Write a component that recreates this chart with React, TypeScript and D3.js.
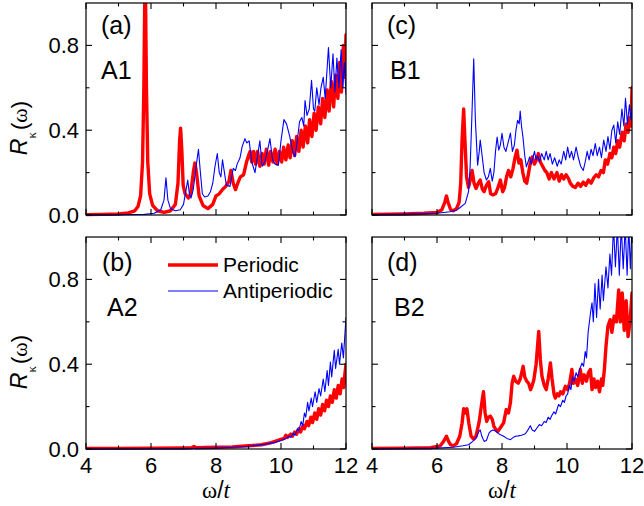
import React from 'react';
import * as d3 from 'd3';

type Pt = [number, number];

const X_MAJOR = [4, 6, 8, 10, 12];
const X_MINOR = [5, 7, 9, 11];
const Y_MAJOR = [0, 0.4, 0.8];
const Y_MINOR = [0.2, 0.6];
const Y_LABELS = ['0.0', '0.4', '0.8'];

// Panel (a) A1
const A1_PERIODIC: Pt[] = [
  [4.0, 0.002], [4.5, 0.003], [5.0, 0.005], [5.3, 0.01], [5.5, 0.02], [5.6, 0.04], [5.68, 0.09], [5.74, 0.25],
  [5.78, 0.6], [5.82, 1.2], [5.86, 0.6], [5.9, 0.25], [5.96, 0.1], [6.05, 0.045], [6.2, 0.02], [6.4, 0.012],
  [6.6, 0.02], [6.75, 0.05], [6.83, 0.15], [6.88, 0.35], [6.91, 0.41], [6.95, 0.3], [6.99, 0.14], [7.05, 0.1],
  [7.15, 0.08], [7.22, 0.1], [7.3, 0.2], [7.35, 0.245], [7.4, 0.2], [7.48, 0.09], [7.6, 0.045], [7.75, 0.03],
  [7.9, 0.05], [8.0, 0.09], [8.1, 0.1], [8.2, 0.12], [8.3, 0.135], [8.4, 0.16], [8.46, 0.21], [8.53, 0.15],
  [8.6, 0.12], [8.67, 0.15], [8.75, 0.18], [8.85, 0.19], [8.94, 0.25], [9.0, 0.28], [9.05, 0.3], [9.1, 0.25],
  [9.16, 0.3], [9.22, 0.24], [9.28, 0.3], [9.35, 0.23], [9.42, 0.29], [9.48, 0.24], [9.55, 0.31], [9.62, 0.235],
  [9.68, 0.3], [9.75, 0.25], [9.82, 0.31], [9.88, 0.24], [9.95, 0.3], [10.02, 0.25], [10.08, 0.32], [10.15, 0.26],
  [10.22, 0.33], [10.28, 0.27], [10.35, 0.35], [10.42, 0.28], [10.48, 0.37], [10.55, 0.3], [10.62, 0.4],
  [10.68, 0.32], [10.75, 0.42], [10.82, 0.34], [10.88, 0.45], [10.95, 0.37], [11.02, 0.48], [11.08, 0.4],
  [11.15, 0.51], [11.22, 0.43], [11.28, 0.55], [11.35, 0.46], [11.42, 0.59], [11.48, 0.49], [11.55, 0.63],
  [11.62, 0.51], [11.68, 0.66], [11.75, 0.55], [11.8, 0.72], [11.86, 0.58], [11.92, 0.8], [11.96, 0.65], [12.0, 0.85],
];
const A1_ANTI: Pt[] = [
  [4.0, 0.0], [5.0, 0.001], [5.8, 0.003], [6.1, 0.008], [6.3, 0.025], [6.4, 0.07], [6.46, 0.175], [6.52, 0.07],
  [6.6, 0.03], [6.75, 0.02], [6.9, 0.025], [7.0, 0.05], [7.08, 0.12], [7.13, 0.165], [7.18, 0.1], [7.23, 0.08],
  [7.3, 0.12], [7.38, 0.22], [7.46, 0.31], [7.52, 0.2], [7.58, 0.1], [7.65, 0.085], [7.75, 0.09], [7.83, 0.11],
  [7.9, 0.15], [7.97, 0.23], [8.04, 0.29], [8.1, 0.2], [8.15, 0.18], [8.2, 0.26], [8.26, 0.2], [8.32, 0.14],
  [8.43, 0.135], [8.53, 0.22], [8.6, 0.21], [8.65, 0.24], [8.74, 0.27], [8.8, 0.32], [8.89, 0.36], [8.95, 0.34],
  [9.02, 0.35], [9.1, 0.25], [9.2, 0.2], [9.27, 0.27], [9.35, 0.35], [9.42, 0.23], [9.5, 0.25], [9.58, 0.3],
  [9.66, 0.36], [9.74, 0.26], [9.82, 0.24], [9.92, 0.235], [10.0, 0.35], [10.09, 0.45], [10.17, 0.43],
  [10.27, 0.37], [10.36, 0.3], [10.43, 0.275], [10.5, 0.35], [10.57, 0.44], [10.64, 0.46], [10.7, 0.42],
  [10.74, 0.54], [10.8, 0.47], [10.87, 0.5], [10.94, 0.635], [11.0, 0.5], [11.04, 0.49], [11.1, 0.6],
  [11.17, 0.52], [11.23, 0.6], [11.3, 0.65], [11.36, 0.55], [11.46, 0.79], [11.53, 0.6], [11.6, 0.76],
  [11.66, 0.58], [11.72, 0.74], [11.78, 0.6], [11.85, 0.78], [11.9, 0.6], [11.95, 0.72], [12.0, 0.57],
];

// Panel (b) A2
const A2_PERIODIC: Pt[] = [
  [4.0, 0.003], [5.0, 0.003], [6.0, 0.004], [7.0, 0.005], [7.25, 0.006], [7.32, 0.012], [7.38, 0.006],
  [8.0, 0.008], [8.5, 0.01], [9.0, 0.015], [9.4, 0.02], [9.7, 0.03], [10.0, 0.045], [10.1, 0.05],
  [10.15, 0.065], [10.2, 0.055], [10.3, 0.07], [10.35, 0.06], [10.42, 0.08], [10.48, 0.07], [10.55, 0.095],
  [10.6, 0.08], [10.68, 0.11], [10.72, 0.095], [10.8, 0.13], [10.85, 0.11], [10.92, 0.15], [10.97, 0.125],
  [11.04, 0.17], [11.1, 0.14], [11.16, 0.19], [11.22, 0.16], [11.28, 0.21], [11.34, 0.18], [11.4, 0.23],
  [11.46, 0.2], [11.52, 0.25], [11.58, 0.22], [11.64, 0.28], [11.7, 0.24], [11.76, 0.3], [11.82, 0.26],
  [11.88, 0.33], [11.93, 0.29], [11.97, 0.36], [12.0, 0.4],
];
const A2_ANTI: Pt[] = [
  [4.0, 0.0], [6.0, 0.001], [7.0, 0.002], [8.0, 0.005], [8.5, 0.008], [9.0, 0.013], [9.5, 0.022], [9.8, 0.03],
  [10.0, 0.04], [10.15, 0.05], [10.25, 0.06], [10.3, 0.055], [10.38, 0.075], [10.43, 0.065], [10.5, 0.095],
  [10.55, 0.085], [10.62, 0.13], [10.67, 0.11], [10.72, 0.17], [10.76, 0.15], [10.82, 0.22], [10.86, 0.18],
  [10.93, 0.24], [10.97, 0.2], [11.05, 0.27], [11.1, 0.22], [11.17, 0.285], [11.22, 0.25], [11.3, 0.33],
  [11.35, 0.27], [11.42, 0.37], [11.46, 0.3], [11.52, 0.41], [11.56, 0.34], [11.64, 0.465], [11.68, 0.38],
  [11.76, 0.47], [11.8, 0.4], [11.87, 0.5], [11.92, 0.43], [11.97, 0.55], [12.0, 0.62],
];

// Panel (c) B1
const B1_PERIODIC: Pt[] = [
  [4.0, 0.003], [5.0, 0.005], [5.6, 0.008], [6.0, 0.012], [6.15, 0.025], [6.24, 0.06], [6.29, 0.09],
  [6.34, 0.06], [6.42, 0.025], [6.5, 0.02], [6.6, 0.03], [6.68, 0.06], [6.73, 0.15], [6.77, 0.35], [6.82, 0.5],
  [6.86, 0.35], [6.91, 0.18], [6.97, 0.13], [7.03, 0.17], [7.08, 0.21], [7.14, 0.15], [7.2, 0.125], [7.27, 0.15],
  [7.33, 0.165], [7.4, 0.12], [7.45, 0.11], [7.52, 0.14], [7.59, 0.157], [7.65, 0.1], [7.72, 0.095], [7.8, 0.1],
  [7.88, 0.13], [7.95, 0.165], [8.02, 0.11], [8.08, 0.13], [8.14, 0.18], [8.2, 0.21], [8.27, 0.18], [8.34, 0.22],
  [8.4, 0.27], [8.46, 0.306], [8.52, 0.245], [8.58, 0.26], [8.64, 0.2], [8.7, 0.16], [8.76, 0.15], [8.82, 0.2],
  [8.87, 0.245], [8.93, 0.274], [9.0, 0.24], [9.06, 0.26], [9.12, 0.29], [9.18, 0.25], [9.25, 0.23], [9.32, 0.21],
  [9.38, 0.2], [9.45, 0.17], [9.52, 0.2], [9.6, 0.17], [9.69, 0.2], [9.76, 0.16], [9.83, 0.19], [9.9, 0.17],
  [9.97, 0.19], [10.05, 0.17], [10.1, 0.15], [10.18, 0.135], [10.26, 0.13], [10.34, 0.15], [10.42, 0.135],
  [10.5, 0.155], [10.58, 0.14], [10.66, 0.165], [10.74, 0.15], [10.82, 0.175], [10.9, 0.19], [10.97, 0.18],
  [11.05, 0.21], [11.12, 0.2], [11.18, 0.26], [11.25, 0.24], [11.32, 0.29], [11.38, 0.27], [11.44, 0.32],
  [11.5, 0.29], [11.56, 0.35], [11.62, 0.32], [11.7, 0.39], [11.76, 0.35], [11.82, 0.43], [11.88, 0.39],
  [11.94, 0.46], [11.97, 0.42], [12.0, 0.6],
];
const B1_ANTI: Pt[] = [
  [4.0, 0.002], [5.0, 0.004], [6.0, 0.008], [6.4, 0.015], [6.6, 0.022], [6.75, 0.04], [6.87, 0.055],
  [6.97, 0.11], [7.02, 0.23], [7.07, 0.45], [7.13, 0.737], [7.18, 0.45], [7.25, 0.235], [7.3, 0.3], [7.33, 0.353],
  [7.38, 0.29], [7.45, 0.2], [7.52, 0.165], [7.58, 0.18], [7.64, 0.22], [7.7, 0.16], [7.75, 0.2], [7.8, 0.3],
  [7.85, 0.368], [7.9, 0.306], [7.95, 0.33], [8.0, 0.385], [8.06, 0.32], [8.12, 0.3], [8.2, 0.35], [8.26, 0.387],
  [8.32, 0.3], [8.38, 0.33], [8.43, 0.4], [8.48, 0.447], [8.53, 0.43], [8.56, 0.49], [8.6, 0.42], [8.65, 0.36],
  [8.7, 0.28], [8.75, 0.227], [8.8, 0.25], [8.85, 0.274], [8.9, 0.24], [8.95, 0.27], [9.0, 0.3], [9.05, 0.26],
  [9.1, 0.28], [9.15, 0.25], [9.22, 0.29], [9.3, 0.26], [9.36, 0.3], [9.42, 0.26], [9.48, 0.29], [9.55, 0.24],
  [9.62, 0.27], [9.7, 0.23], [9.76, 0.26], [9.82, 0.24], [9.9, 0.3], [9.96, 0.26], [10.02, 0.32], [10.08, 0.27],
  [10.14, 0.3], [10.2, 0.26], [10.28, 0.32], [10.35, 0.27], [10.42, 0.23], [10.5, 0.21], [10.56, 0.25],
  [10.62, 0.3], [10.68, 0.26], [10.74, 0.31], [10.8, 0.28], [10.87, 0.337], [10.93, 0.28], [11.0, 0.32],
  [11.06, 0.27], [11.13, 0.353], [11.2, 0.3], [11.26, 0.37], [11.32, 0.31], [11.38, 0.4], [11.44, 0.424],
  [11.5, 0.34], [11.56, 0.44], [11.62, 0.38], [11.69, 0.5], [11.75, 0.42], [11.8, 0.55], [11.86, 0.43],
  [11.92, 0.52], [11.97, 0.45], [12.0, 0.51],
];

// Panel (d) B2
const B2_PERIODIC: Pt[] = [
  [4.0, 0.003], [5.0, 0.004], [5.8, 0.006], [6.1, 0.015], [6.2, 0.035], [6.29, 0.06], [6.36, 0.035],
  [6.42, 0.02], [6.5, 0.015], [6.6, 0.025], [6.7, 0.06], [6.77, 0.12], [6.82, 0.19], [6.87, 0.17], [6.92, 0.19],
  [6.98, 0.12], [7.05, 0.06], [7.12, 0.047], [7.2, 0.06], [7.3, 0.13], [7.38, 0.22], [7.43, 0.27], [7.48, 0.17],
  [7.53, 0.13], [7.58, 0.15], [7.64, 0.155], [7.7, 0.14], [7.75, 0.107], [7.82, 0.09], [7.87, 0.083], [7.95, 0.1],
  [8.05, 0.123], [8.13, 0.186], [8.2, 0.17], [8.26, 0.22], [8.31, 0.31], [8.36, 0.343], [8.42, 0.32], [8.5, 0.31],
  [8.56, 0.33], [8.65, 0.39], [8.7, 0.34], [8.76, 0.32], [8.82, 0.31], [8.88, 0.28], [8.93, 0.3], [8.98, 0.327],
  [9.05, 0.4], [9.13, 0.555], [9.18, 0.42], [9.23, 0.343], [9.3, 0.3], [9.36, 0.28], [9.42, 0.33], [9.49, 0.406],
  [9.54, 0.33], [9.6, 0.26], [9.64, 0.24], [9.7, 0.26], [9.75, 0.25], [9.8, 0.27], [9.87, 0.26], [9.95, 0.296],
  [10.02, 0.28], [10.08, 0.31], [10.15, 0.375], [10.2, 0.31], [10.26, 0.33], [10.33, 0.3], [10.41, 0.375],
  [10.47, 0.31], [10.53, 0.35], [10.6, 0.32], [10.66, 0.36], [10.72, 0.375], [10.77, 0.28], [10.83, 0.33],
  [10.88, 0.29], [10.94, 0.32], [11.0, 0.27], [11.06, 0.33], [11.1, 0.3], [11.15, 0.375], [11.2, 0.485],
  [11.26, 0.58], [11.33, 0.61], [11.38, 0.55], [11.45, 0.626], [11.52, 0.6], [11.59, 0.75], [11.64, 0.6],
  [11.7, 0.736], [11.76, 0.56], [11.82, 0.7], [11.88, 0.53], [11.94, 0.6], [12.0, 0.736],
];
const B2_ANTI: Pt[] = [
  [4.0, 0.001], [6.0, 0.004], [6.5, 0.008], [6.8, 0.015], [6.97, 0.02], [7.1, 0.036], [7.2, 0.05], [7.28, 0.08],
  [7.33, 0.09], [7.38, 0.06], [7.45, 0.036], [7.52, 0.04], [7.6, 0.075], [7.66, 0.085], [7.72, 0.09], [7.8, 0.085],
  [7.92, 0.07], [8.05, 0.06], [8.15, 0.05], [8.26, 0.044], [8.35, 0.055], [8.42, 0.06], [8.5, 0.062], [8.6, 0.065],
  [8.72, 0.072], [8.8, 0.09], [8.87, 0.11], [8.93, 0.09], [9.0, 0.083], [9.08, 0.1], [9.15, 0.115], [9.22, 0.11],
  [9.3, 0.13], [9.36, 0.125], [9.42, 0.15], [9.48, 0.14], [9.54, 0.16], [9.6, 0.175], [9.65, 0.165], [9.74, 0.21],
  [9.8, 0.2], [9.87, 0.23], [9.92, 0.22], [9.97, 0.25], [10.02, 0.26], [10.07, 0.3], [10.12, 0.28], [10.17, 0.34],
  [10.22, 0.32], [10.28, 0.36], [10.33, 0.34], [10.4, 0.38], [10.46, 0.405], [10.51, 0.39], [10.56, 0.46],
  [10.6, 0.43], [10.65, 0.55], [10.69, 0.6], [10.73, 0.65], [10.77, 0.69], [10.81, 0.6], [10.86, 0.78],
  [10.91, 0.62], [10.97, 0.8], [11.02, 0.66], [11.08, 0.82], [11.12, 0.7], [11.2, 0.86], [11.26, 0.76],
  [11.32, 0.92], [11.37, 0.82], [11.43, 1.05], [11.49, 0.86], [11.55, 1.05], [11.61, 0.82], [11.67, 1.05],
  [11.73, 0.85], [11.79, 1.05], [11.85, 0.82], [11.9, 1.05], [11.95, 0.85], [12.0, 1.05],
];

const LEGEND = ['Periodic', 'Antiperiodic'];

const FONT = '"Liberation Sans", Arial, sans-serif';
const SERIF = '"Liberation Serif", "Times New Roman", serif';
const RED = '#ff0000';
const BLUE = '#0000ff';

interface PanelDef {
  id: string;
  tag: string;
  name: string;
  left: number;
  top: number;
  periodic: Pt[];
  anti: Pt[];
  yLabels: boolean;
  xLabels: boolean;
  tagPos: [number, number];
  namePos: [number, number];
}

const PW = 260;
const PH = 212;

const PANELS: PanelDef[] = [
  { id: 'a', tag: '(a)', name: 'A1', left: 86, top: 3, periodic: A1_PERIODIC, anti: A1_ANTI, yLabels: true, xLabels: false, tagPos: [101, 34], namePos: [101, 79] },
  { id: 'c', tag: '(c)', name: 'B1', left: 372, top: 3, periodic: B1_PERIODIC, anti: B1_ANTI, yLabels: false, xLabels: false, tagPos: [387, 34], namePos: [390, 79] },
  { id: 'b', tag: '(b)', name: 'A2', left: 86, top: 237, periodic: A2_PERIODIC, anti: A2_ANTI, yLabels: true, xLabels: true, tagPos: [102, 271], namePos: [107, 316] },
  { id: 'd', tag: '(d)', name: 'B2', left: 372, top: 237, periodic: B2_PERIODIC, anti: B2_ANTI, yLabels: false, xLabels: true, tagPos: [387, 271], namePos: [394, 316] },
];

function Panel({ p }: { p: PanelDef }) {
  const x = d3.scaleLinear().domain([4, 12]).range([p.left, p.left + PW]);
  const y = d3.scaleLinear().domain([0, 1]).range([p.top + PH, p.top]);
  const line = d3.line<Pt>().x((d) => x(d[0])).y((d) => y(d[1]));
  const bottom = p.top + PH;
  const right = p.left + PW;
  const MAJ = 6;
  const MIN = 3.5;
  return (
    <g>
      <defs>
        <clipPath id={`clip-${p.id}`}>
          <rect x={p.left} y={p.top} width={PW} height={PH + 2} />
        </clipPath>
      </defs>
      <g clipPath={`url(#clip-${p.id})`} fill="none" strokeLinejoin="round" strokeLinecap="round">
        <path d={line(p.periodic) || ''} stroke={RED} strokeWidth={3.4} />
        <path d={line(p.anti) || ''} stroke={BLUE} strokeWidth={1.1} />
      </g>
      <rect x={p.left} y={p.top} width={PW} height={PH} fill="none" stroke="#000" strokeWidth={1.2} />
      {X_MAJOR.map((v) => (
        <g key={`xM${v}`} stroke="#000" strokeWidth={1.1}>
          <line x1={x(v)} x2={x(v)} y1={bottom} y2={bottom - MAJ} />
          <line x1={x(v)} x2={x(v)} y1={p.top} y2={p.top + MAJ} />
        </g>
      ))}
      {X_MINOR.map((v) => (
        <g key={`xm${v}`} stroke="#000" strokeWidth={1.1}>
          <line x1={x(v)} x2={x(v)} y1={bottom} y2={bottom - MIN} />
          <line x1={x(v)} x2={x(v)} y1={p.top} y2={p.top + MIN} />
        </g>
      ))}
      {Y_MAJOR.map((v) => (
        <g key={`yM${v}`} stroke="#000" strokeWidth={1.1}>
          <line x1={p.left} x2={p.left + MAJ} y1={y(v)} y2={y(v)} />
          <line x1={right} x2={right - MAJ} y1={y(v)} y2={y(v)} />
        </g>
      ))}
      {Y_MINOR.map((v) => (
        <g key={`ym${v}`} stroke="#000" strokeWidth={1.1}>
          <line x1={p.left} x2={p.left + MIN} y1={y(v)} y2={y(v)} />
          <line x1={right} x2={right - MIN} y1={y(v)} y2={y(v)} />
        </g>
      ))}
      {p.yLabels &&
        Y_MAJOR.map((v, i) => (
          <text key={`yl${v}`} x={p.left - 7} y={y(v) + 8} textAnchor="end" fontSize={22} fontFamily={FONT} fill="#000">
            {Y_LABELS[i]}
          </text>
        ))}
      {p.xLabels &&
        X_MAJOR.map((v) => (
          <text key={`xl${v}`} x={x(v)} y={bottom + 24} textAnchor="middle" fontSize={22} fontFamily={FONT} fill="#000">
            {String(v)}
          </text>
        ))}
      <text x={p.tagPos[0]} y={p.tagPos[1]} fontSize={25} fontFamily={FONT} fill="#000">{p.tag}</text>
      <text x={p.namePos[0]} y={p.namePos[1]} fontSize={25} fontFamily={FONT} fill="#000">{p.name}</text>
      {p.xLabels && (
        <text x={p.left + PW / 2} y={498} textAnchor="middle" fontSize={23} fill="#000">
          <tspan fontFamily={SERIF}>ω</tspan>
          <tspan fontFamily={FONT}>/</tspan>
          <tspan fontFamily={SERIF} fontStyle="italic">t</tspan>
        </text>
      )}
      {p.yLabels && (
        <text transform={`translate(27, ${p.top + 125}) rotate(-90)`} textAnchor="middle" fill="#000" fontFamily={FONT}>
          <tspan fontSize={23} fontStyle="italic">R</tspan>
          <tspan fontSize={13} dy={9} fontFamily={SERIF}>κ</tspan>
          <tspan fontSize={22} dy={-9} dx={2}>(</tspan>
          <tspan fontSize={22} fontFamily={SERIF}>ω</tspan>
          <tspan fontSize={22}>)</tspan>
        </text>
      )}
    </g>
  );
}

export default function App() {
  return (
    <svg
      width={644}
      height={506}
      viewBox="0 0 644 506"
      style={{ position: 'absolute', left: 0, top: 0, background: '#fff' }}
    >
      <rect width={644} height={506} fill="#fff" />
      {PANELS.map((p) => (
        <Panel key={p.id} p={p} />
      ))}
      <g>
        <line x1={168} x2={218} y1={265} y2={265} stroke={RED} strokeWidth={3.4} />
        <text x={223} y={272} fontSize={21} fontFamily={FONT} fill="#000">{LEGEND[0]}</text>
        <line x1={168} x2={218} y1={291} y2={291} stroke={BLUE} strokeWidth={1.1} />
        <text x={223} y={298} fontSize={21} fontFamily={FONT} fill="#000">{LEGEND[1]}</text>
      </g>
    </svg>
  );
}
